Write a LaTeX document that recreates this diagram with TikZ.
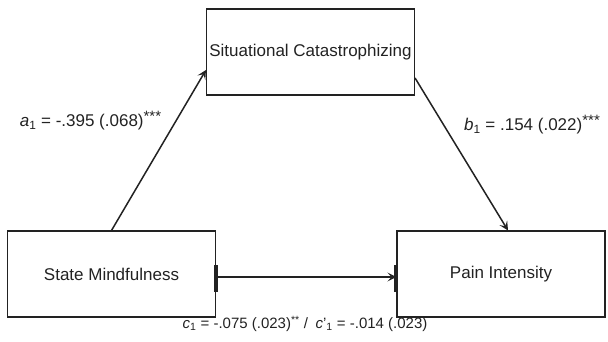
\documentclass[tikz,border=0pt]{standalone}
\usepackage{fontspec}
\setmainfont{Liberation Sans}
\usetikzlibrary{arrows.meta}
\definecolor{ink}{HTML}{222222}
\newcommand{\bigstars}[1]{\raisebox{0.3em}{\fontsize{15}{15}\selectfont #1}}
\begin{document}
\begin{tikzpicture}[x=1pt,y=-1pt,
  varbox/.style={draw=ink,line width=1.1pt,minimum width=208pt,minimum height=86pt,inner sep=0pt,text=ink,font=\fontsize{17}{20}\selectfont},
  path/.style={draw=ink,line width=1.5pt,-{Stealth[length=9pt,width=9pt,inset=4pt]}},
  bar/.style={draw=ink,line width=4pt},
  coef/.style={text=ink,font=\fontsize{17}{20}\selectfont,inner sep=0pt},
  coefc/.style={text=ink,font=\fontsize{15}{18}\selectfont,inner sep=0pt}]
\useasboundingbox (0,0) rectangle (608,342);
\node[varbox] (med) at (310.5,52) {Situational Catastrophizing};
\node[varbox] (x) at (111.5,274) {State Mindfulness};
\node[varbox] (y) at (501,274) {Pain Intensity};
\draw[path] (x.north) -- ([yshift=-18pt]med.west);
\draw[path] ([yshift=-26pt]med.east) -- ([xshift=7pt]y.north);
\draw[path] ([yshift=-3pt]x.east) -- ([yshift=-3pt]y.west);
\draw[bar] ([yshift=9pt]x.east) -- ([yshift=-18pt]x.east);
\draw[bar] ([yshift=9pt]y.west) -- ([yshift=-18pt]y.west);
\node[coef] (la) at (90.5,121) {\textit{a}\textsubscript{1} = -.395 (.068)\bigstars{***}};
\node[coef] (lb) at (532,125) {\textit{b}\textsubscript{1} = .154 (.022)\bigstars{***}};
\node[coefc] (lc) at (305,324) {\textit{c}\textsubscript{1} = -.075 (.023)\textsuperscript{**} /\enspace\textit{c}'\textsubscript{1} = -.014 (.023)};
\end{tikzpicture}
\end{document}
